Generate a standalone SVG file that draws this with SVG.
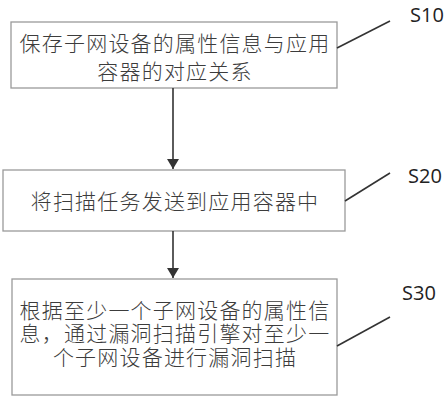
<svg xmlns="http://www.w3.org/2000/svg" width="448" height="400" viewBox="0 0 448 400">
<defs>
<style>
.box{fill:#fff;stroke:#9a9a9a;stroke-width:1.3}
.t{font-family:"Noto Sans CJK SC","Noto Sans",sans-serif;font-size:21px;letter-spacing:1.2px;fill:#3c3c3c;text-anchor:middle;font-weight:300}
.lbl{font-family:"Open Sans","Noto Sans",sans-serif;font-size:20px;fill:#222}
.ld{stroke:#333;stroke-width:1.6;fill:none}
.ar{stroke:#333;stroke-width:1.6;fill:none}
</style>
<marker id="ah" markerWidth="10" markerHeight="12" refX="10" refY="6" orient="auto" markerUnits="userSpaceOnUse">
<path d="M0,0 L10,6 L0,12 Z" fill="#333"/>
</marker>
</defs>
<rect width="448" height="400" fill="#fff"/>
<g id="s10">
<rect class="box" x="11" y="22" width="326" height="66"/>
<text class="t" x="175" y="51">保存子网设备的属性信息与应用</text>
<text class="t" x="175" y="79">容器的对应关系</text>
<text class="lbl" x="410" y="22">S10</text>
</g>
<g id="s20">
<rect class="box" x="3" y="170" width="342" height="61"/>
<text class="t" x="175" y="209">将扫描任务发送到应用容器中</text>
<text class="lbl" x="408" y="183">S20</text>
</g>
<g id="s30">
<rect class="box" x="12" y="279" width="325" height="116"/>
<text class="t" x="175" y="318">根据至少一个子网设备的属性信</text>
<text class="t" x="175" y="341">息，通过漏洞扫描引擎对至少一</text>
<text class="t" x="175" y="365">个子网设备进行漏洞扫描</text>
<text class="lbl" x="402" y="300">S30</text>
</g>
<g id="connectors">
<line class="ar" x1="173" y1="88" x2="173" y2="169" marker-end="url(#ah)"/>
<line class="ar" x1="173" y1="231" x2="173" y2="278" marker-end="url(#ah)"/>
<line class="ld" x1="337" y1="48" x2="390" y2="21"/>
<line class="ld" x1="345" y1="201" x2="390" y2="173"/>
<line class="ld" x1="337" y1="346" x2="390" y2="317"/>
</g>
</svg>
